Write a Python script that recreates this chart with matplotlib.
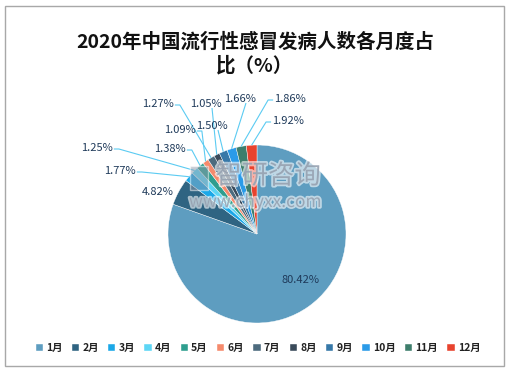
import matplotlib
matplotlib.use("Agg")
import matplotlib.pyplot as plt
import matplotlib.patheffects as pe
import numpy as np
from matplotlib.patches import Rectangle

plt.rcParams['font.family'] = ['Noto Sans CJK SC', 'DejaVu Sans']

months = ['1月', '2月', '3月', '4月', '5月', '6月', '7月', '8月', '9月', '10月', '11月', '12月']
values = [80.42, 4.82, 1.77, 1.25, 1.38, 1.09, 1.27, 1.05, 1.50, 1.66, 1.86, 1.92]
labels = ['80.42%', '4.82%', '1.77%', '1.25%', '1.38%', '1.09%', '1.27%', '1.05%', '1.50%', '1.66%', '1.86%', '1.92%']
colors = ['#5E9DC0', '#2F6482', '#1BA8E8', '#5DD6F5', '#2E9E8E', '#F58A6C',
          '#4D6B7E', '#3A4A5A', '#3778A8', '#2B9BE8', '#3E7E6C', '#E8432E']

W, H = 509, 371
fig = plt.figure(figsize=(W / 100, H / 100), dpi=100)
ax = fig.add_axes([0, 0, 1, 1])

cx, cy, r = 257, H - 234, 89
wedges, _ = ax.pie(values, colors=colors, startangle=90, counterclock=False,
                   center=(cx, cy), radius=r, frame=True,
                   wedgeprops=dict(edgecolor='white', linewidth=0.3))
ax.set_xlim(0, W)
ax.set_ylim(0, H)
ax.set_aspect('equal')
ax.axis('off')

label_pos = [(301, 280), (158, 192), (120, 171), (97, 148), (170, 149), (180, 130),
             (158, 104), (206, 104), (212, 126), (240, 99), (290, 99), (288, 121)]
line_mode = [None, None, 'L', 'L', 'L', 'L', 'L', 'v', 'v', 'v', 'R', 'R']
lc = '#5BCBF2'
texts = []
for i, w in enumerate(wedges):
    lx, ly = label_pos[i]
    t = ax.text(lx, H - ly, labels[i], ha='center', va='center', fontsize=8, color='#1F3A5A')
    texts.append(t)

fig.canvas.draw()
renderer = fig.canvas.get_renderer()
inv = ax.transData.inverted()
for i, w in enumerate(wedges):
    mode = line_mode[i]
    if mode is None:
        continue
    bb = texts[i].get_window_extent(renderer)
    (x0, y0), (x1, y1) = inv.transform([(bb.x0, bb.y0), (bb.x1, bb.y1)])
    th = np.deg2rad((w.theta1 + w.theta2) / 2)
    ex, ey = cx + r * np.cos(th), cy + r * np.sin(th)
    ym = (y0 + y1) / 2 - 1
    if mode == 'L':
        xs = [x1 + 1, x1 + 6, ex]
        ys = [ym, ym, ey]
    elif mode == 'R':
        xs = [x0 - 1, x0 - 6, ex]
        ys = [ym, ym, ey]
    else:
        xm = (x0 + x1) / 2 + 6
        xs = [xm, ex]
        ys = [y0 + 1, ey]
    ax.plot(xs, ys, color=lc, lw=0.8, solid_capstyle='butt', zorder=1)

# watermark
wm_fx = [pe.withStroke(linewidth=2.5, foreground='white', alpha=0.6)]
ax.text(268, H - 176, '智研咨询', ha='center', va='center', fontsize=19,
        color='#8A97A8', alpha=0.75, zorder=6, path_effects=wm_fx)
ax.text(255, H - 202, 'www.chyxx.com', ha='center', va='center', fontsize=12.5,
        color='#8A97A8', alpha=0.75, zorder=6, path_effects=wm_fx)
ax.add_patch(Rectangle((190, H - 190), 18, 24, facecolor='#8A97A8', alpha=0.5,
                       edgecolor='white', linewidth=1, zorder=6))

# title
fig.text(255 / W, 1 - 42 / H, '2020年中国流行性感冒发病人数各月度占', ha='center', va='center',
         fontsize=14, color='#111111', fontweight='bold')
fig.text(255 / W, 1 - 66 / H, '比（%）', ha='center', va='center',
         fontsize=14, color='#111111', fontweight='bold')

# legend
leg = fig.legend(wedges, months, loc='center', bbox_to_anchor=(258 / W, 1 - 348 / H),
                 ncol=12, frameon=False, fontsize=7.5, handlelength=0.7, handleheight=0.7,
                 handletextpad=0.3, columnspacing=0.9, borderpad=0)
for t in leg.get_texts():
    t.set_fontweight('bold')
    t.set_color('#222222')

# border
fig.patches.append(Rectangle((5 / W, 5 / H), (W - 10) / W, (H - 11) / H, transform=fig.transFigure,
                             fill=False, edgecolor='#A8A8A8', linewidth=1))

fig.savefig('out.png', dpi=100)
